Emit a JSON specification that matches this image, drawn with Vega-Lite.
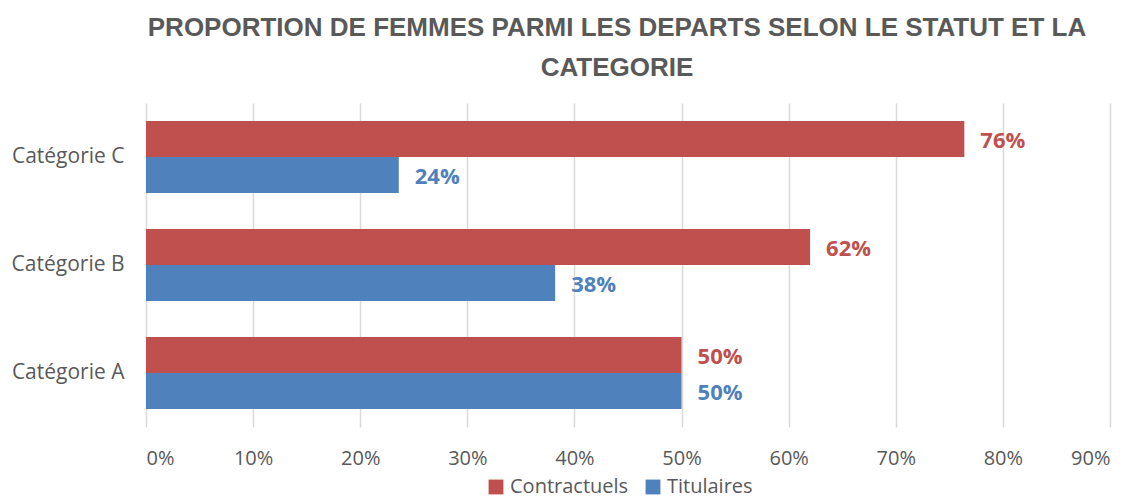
{
  "$schema": "https://vega.github.io/schema/vega-lite/v6.json",
  "autosize": "none",
  "width": 964,
  "height": 324,
  "padding": {"left": 146, "top": 103, "right": 23, "bottom": 72},
  "background": "white",
  "config": {
    "view": {"stroke": null},
    "font": "Open Sans"
  },
  "title": {
    "text": ["PROPORTION DE FEMMES PARMI LES DEPARTS SELON LE STATUT ET LA", "CATEGORIE"],
    "font": "Liberation Sans",
    "fontSize": 26,
    "fontWeight": "bold",
    "color": "#595959",
    "anchor": "middle",
    "lineHeight": 40,
    "offset": 22,
    "dx": -11
  },
  "data": {
    "values": [
      {"categorie": "Catégorie C", "statut": "Contractuels", "part": 0.764},
      {"categorie": "Catégorie C", "statut": "Titulaires", "part": 0.236},
      {"categorie": "Catégorie B", "statut": "Contractuels", "part": 0.62},
      {"categorie": "Catégorie B", "statut": "Titulaires", "part": 0.382},
      {"categorie": "Catégorie A", "statut": "Contractuels", "part": 0.5},
      {"categorie": "Catégorie A", "statut": "Titulaires", "part": 0.5}
    ]
  },
  "encoding": {
    "y": {
      "field": "categorie",
      "type": "nominal",
      "sort": ["Catégorie C", "Catégorie B", "Catégorie A"],
      "scale": {"paddingInner": 0.3333, "paddingOuter": 0.1667},
      "axis": {
        "title": null,
        "domain": false,
        "ticks": false,
        "labelFontSize": 21,
        "labelColor": "#595959",
        "labelPadding": 22,
        "labelFont": "Open Sans"
      }
    },
    "yOffset": {
      "field": "statut",
      "type": "nominal",
      "sort": ["Contractuels", "Titulaires"],
      "scale": {"paddingInner": 0, "paddingOuter": 0}
    },
    "x": {
      "field": "part",
      "type": "quantitative",
      "scale": {"domain": [0, 0.9], "nice": false},
      "axis": {
        "title": null,
        "values": [0, 0.1, 0.2, 0.3, 0.4, 0.5, 0.6, 0.7, 0.8, 0.9],
        "format": ".0%",
        "domain": false,
        "ticks": false,
        "grid": true,
        "gridColor": "#D9D9D9",
        "gridWidth": 1.5,
        "labelFontSize": 20,
        "labelColor": "#595959",
        "labelPadding": 21,
        "labelFont": "Open Sans"
      }
    },
    "color": {
      "field": "statut",
      "type": "nominal",
      "scale": {"domain": ["Contractuels", "Titulaires"], "range": ["#C0504D", "#4F81BD"]},
      "legend": {
        "title": null,
        "orient": "none",
        "direction": "horizontal",
        "legendX": 340,
        "legendY": 374,
        "symbolType": "square",
        "symbolSize": 220,
        "symbolStrokeWidth": 0,
        "labelFontSize": 20,
        "labelColor": "#595959",
        "labelFont": "Open Sans",
        "columnPadding": 14,
        "labelOffset": 4
      }
    }
  },
  "layer": [
    {"mark": {"type": "bar", "opacity": 1}},
    {
      "mark": {"type": "text", "align": "left", "baseline": "middle", "dx": 16, "dy": 2, "fontSize": 22, "fontWeight": "bold", "font": "Open Sans"},
      "encoding": {
        "text": {"field": "part", "type": "quantitative", "format": ".0%"}
      }
    }
  ]
}
